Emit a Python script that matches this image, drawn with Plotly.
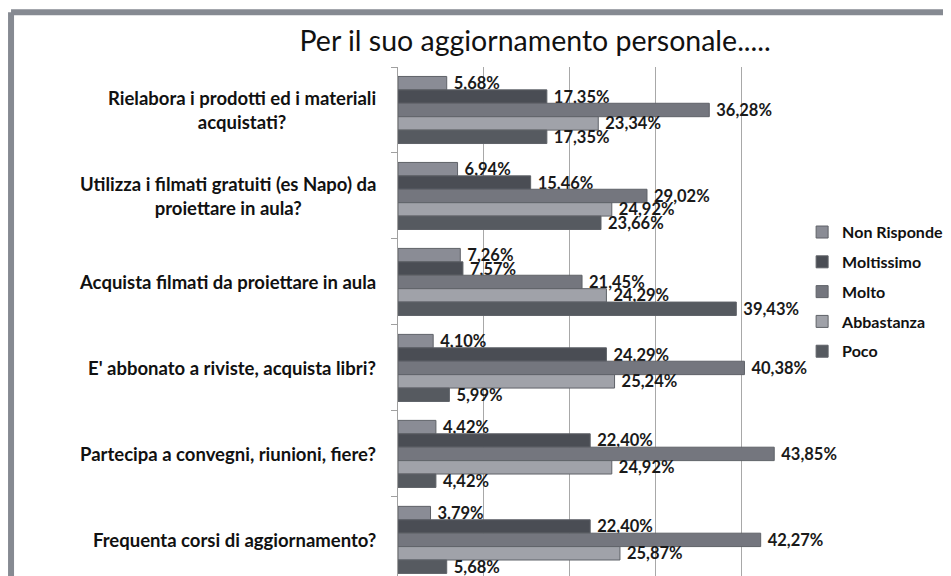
import plotly.graph_objects as go

# --- DATA ---
domande = [
    "Rielabora i prodotti ed i materiali<br>acquistati?",
    "Utilizza i filmati gratuiti (es Napo) da<br>proiettare in aula?",
    "Acquista filmati da proiettare in aula",
    "E' abbonato a riviste, acquista libri?",
    "Partecipa a convegni, riunioni, fiere?",
    "Frequenta corsi di aggiornamento?",
]
non_risponde = [5.68, 6.94, 7.26, 4.10, 4.42, 3.79]
moltissimo = [17.35, 15.46, 7.57, 24.29, 22.40, 22.40]
molto = [36.28, 29.02, 21.45, 40.38, 43.85, 42.27]
abbastanza = [23.34, 24.92, 24.29, 25.24, 24.92, 25.87]
poco = [17.35, 23.66, 39.43, 5.99, 4.42, 5.68]

serie = [
    ("Non Risponde", non_risponde, "#8a8c95"),
    ("Moltissimo", moltissimo, "#4a4d54"),
    ("Molto", molto, "#74767e"),
    ("Abbastanza", abbastanza, "#a0a2a9"),
    ("Poco", poco, "#565a60"),
]

FONT = "Lato"

# --- PLOT ---
fig = go.Figure()
for nome, valori, colore in serie:
    fig.add_trace(go.Bar(
        y=domande, x=valori, name=nome, orientation="h",
        marker=dict(color=colore, line=dict(color="#5f6268", width=1)),
        text=["\u00a0" + f"{v:.2f}".replace(".", ",") + "%" for v in valori],
        textposition="outside", constraintext="none", cliponaxis=False,
        textfont=dict(family=FONT, size=16.5, color="#1a1a1a", weight="bold"),
        legendgroup=nome,
    ))

# category labels as annotations so the two-line ones are centred
for d in domande:
    fig.add_annotation(
        x=0, y=d, xref="paper", yref="y", text=d, showarrow=False,
        xanchor="right", xshift=-20, align="center",
        font=dict(family=FONT, size=18.5, color="#111111", weight="bold"),
    )

# chart frame (top and left edges visible)
fig.add_shape(type="line", xref="paper", yref="paper", x0=-0.902, x1=1.3, y0=1.1075, y1=1.1075,
              line=dict(color="#868a92", width=6))
fig.add_shape(type="line", xref="paper", yref="paper", x0=-0.902, x1=-0.902, y0=-0.1, y1=1.1075,
              line=dict(color="#868a92", width=6))

# page body adds an 8px margin, so the figure is 8px smaller than the window
fig.update_layout(
    width=943, height=568,
    margin=dict(l=390, r=124, t=59, b=0, autoexpand=False),
    paper_bgcolor="white", plot_bgcolor="white",
    barmode="group", bargap=0.22, bargroupgap=0,
    title=dict(text="Per il suo aggiornamento personale.....", x=0.559, xanchor="center",
               y=0.942, yanchor="middle", font=dict(family=FONT, size=28.5, color="#111111")),
    xaxis=dict(range=[0, 50], dtick=10, showgrid=True, gridcolor="#a8a8a8", gridwidth=1,
               showticklabels=False, zeroline=False, showline=False, fixedrange=True),
    yaxis=dict(range=[5.42, -0.5], showticklabels=False, showline=True, linecolor="#a0a0a0",
               ticks="outside", tickson="boundaries", ticklen=6, tickcolor="#a0a0a0",
               showgrid=False, fixedrange=True),
    legend=dict(x=0.942, xanchor="left", y=0.709, yanchor="top", traceorder="grouped",
                tracegroupgap=6, bgcolor="rgba(0,0,0,0)",
                font=dict(family=FONT, size=16, color="#111111", weight="bold"),
                itemwidth=30),
    showlegend=True,
)

fig.write_html("out.html")
